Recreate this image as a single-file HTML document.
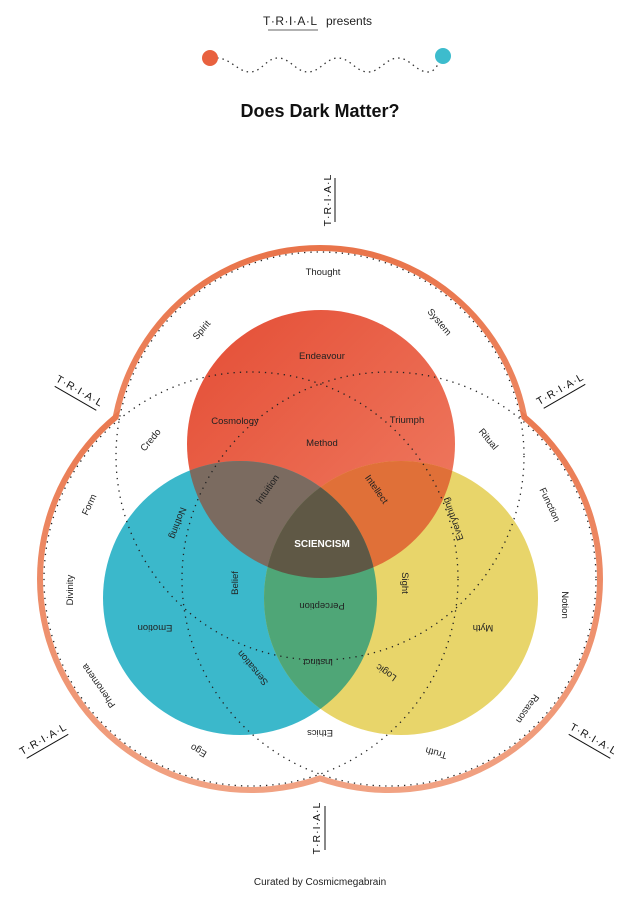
<!DOCTYPE html>
<html><head><meta charset="utf-8"><style>
html,body{margin:0;padding:0;background:#fff;}
svg{display:block;}
text{font-family:"Liberation Sans",sans-serif;}
</style></head><body>
<svg width="640" height="902" viewBox="0 0 640 902" xmlns="http://www.w3.org/2000/svg">
<defs>
<linearGradient id="band" x1="0" y1="0" x2="0" y2="1">
<stop offset="0" stop-color="#e9744a"/><stop offset="1" stop-color="#f1a283"/></linearGradient>
<linearGradient id="redg" x1="0" y1="0" x2="1" y2="1">
<stop offset="0" stop-color="#e44d35"/><stop offset="1" stop-color="#f07e64"/></linearGradient>
<clipPath id="cR"><circle cx="321" cy="444" r="134"/></clipPath>
<clipPath id="cB"><circle cx="240" cy="598" r="137"/></clipPath>
<clipPath id="cY"><circle cx="401" cy="598" r="137"/></clipPath>
</defs>
<!-- header -->
<text x="263" y="25" font-size="12" fill="#222" letter-spacing="0.5">T·R·I·A·L</text>
<line x1="268" y1="30" x2="318" y2="30" stroke="#333" stroke-width="0.8"/>
<text x="326" y="25" font-size="12" fill="#222">presents</text>
<path d="M217 58 C230 58 238 72 250 72 C262 72 266 58 278 58 C290 58 296 72 308 72 C320 72 326 58 338 58 C350 58 356 72 368 72 C380 72 386 58 398 58 C410 58 416 72 428 72 C436 72 438 62 443 58" fill="none" stroke="#333" stroke-width="1.3" stroke-dasharray="1.5 4"/>
<circle cx="210" cy="58" r="8" fill="#e8613f"/>
<circle cx="443" cy="56" r="8" fill="#3dbccd"/>
<text x="320" y="117" font-size="18" font-weight="bold" text-anchor="middle" fill="#111">Does Dark Matter?</text>

<!-- outer band -->
<g fill="url(#band)">
<circle cx="320" cy="456" r="211"/><circle cx="251" cy="579" r="214"/><circle cx="389" cy="579" r="214"/>
</g>
<g fill="#fff">
<circle cx="320" cy="456" r="205"/><circle cx="251" cy="579" r="208"/><circle cx="389" cy="579" r="208"/>
</g>

<!-- colored circles -->
<circle cx="321" cy="444" r="134" fill="url(#redg)"/>
<circle cx="240" cy="598" r="137" fill="#3bb8cb"/>
<circle cx="401" cy="598" r="137" fill="#e8d56a"/>
<g clip-path="url(#cR)"><circle cx="240" cy="598" r="137" fill="#7b6b60"/><circle cx="401" cy="598" r="137" fill="#e07038"/></g>
<g clip-path="url(#cB)"><circle cx="401" cy="598" r="137" fill="#4fa677"/></g>
<g clip-path="url(#cB)"><g clip-path="url(#cY)"><circle cx="321" cy="444" r="134" fill="#5f5845"/></g></g>

<!-- dotted circles -->
<g fill="none" stroke="#222" stroke-width="1.3" stroke-dasharray="1.3 5">
<circle cx="320" cy="456" r="204"/><circle cx="251" cy="579" r="207"/><circle cx="389" cy="579" r="207"/>
</g>

<!-- labels -->
<g font-size="9.5" fill="#222" text-anchor="middle">
<text x="323" y="275">Thought</text>
<text transform="translate(204,332) rotate(-50)">Spirit</text>
<text transform="translate(437,324) rotate(50)">System</text>
<text x="322" y="359">Endeavour</text>
<text x="235" y="424">Cosmology</text>
<text x="407" y="423">Triumph</text>
<text x="322" y="446">Method</text>
<text transform="translate(153,442) rotate(-50)">Credo</text>
<text transform="translate(486,441) rotate(50)">Ritual</text>
<text transform="translate(270,491) rotate(-55)">Intuition</text>
<text transform="translate(374,491) rotate(55)">Intellect</text>
<text transform="translate(92,506) rotate(-65)">Form</text>
<text transform="translate(547,506) rotate(65)">Function</text>
<text transform="translate(175,522) rotate(110)">Nothing</text>
<text transform="translate(456,518) rotate(-110)">Everything</text>
<text transform="translate(73,590) rotate(-90)">Divinity</text>
<text transform="translate(562,605) rotate(90)">Notion</text>
<text transform="translate(238,583) rotate(-90)">Belief</text>
<text transform="translate(402,583) rotate(90)">Sight</text>
<text transform="translate(322,603) rotate(180)">Perception</text>
<text transform="translate(155,625) rotate(180)">Emotion</text>
<text transform="translate(483,625) rotate(180)">Myth</text>
<text transform="translate(255,666) rotate(-130)">Sensation</text>
<text transform="translate(318,659) rotate(180)">Instinct</text>
<text transform="translate(388,670) rotate(-145)">Logic</text>
<text transform="translate(101,684) rotate(-125)">Phenomena</text>
<text transform="translate(525,707) rotate(125)">Reason</text>
<text transform="translate(320,730) rotate(180)">Ethics</text>
<text transform="translate(200,748) rotate(-150)">Ego</text>
<text transform="translate(437,750) rotate(-165)">Truth</text>
</g>
<text x="322" y="547" font-size="10" font-weight="bold" fill="#fff" text-anchor="middle">SCIENCISM</text>

<!-- TRIAL marks -->
<g font-size="10.5" fill="#111" text-anchor="middle" letter-spacing="1">
<g transform="translate(327,200) rotate(-90)"><text x="0" y="4">T·R·I·A·L</text><line x1="-22" y1="8" x2="22" y2="8" stroke="#111" stroke-width="1"/></g>
<g transform="translate(78,394) rotate(30)"><text x="0" y="0">T·R·I·A·L</text><line x1="-24" y1="5" x2="24" y2="5" stroke="#111" stroke-width="1"/></g>
<g transform="translate(562,392) rotate(-30)"><text x="0" y="0">T·R·I·A·L</text><line x1="-24" y1="5" x2="24" y2="5" stroke="#111" stroke-width="1"/></g>
<g transform="translate(45,742) rotate(-30)"><text x="0" y="0">T·R·I·A·L</text><line x1="-24" y1="5" x2="24" y2="5" stroke="#111" stroke-width="1"/></g>
<g transform="translate(592,742) rotate(30)"><text x="0" y="0">T·R·I·A·L</text><line x1="-24" y1="5" x2="24" y2="5" stroke="#111" stroke-width="1"/></g>
<g transform="translate(320,828) rotate(-90)"><text x="0" y="0">T·R·I·A·L</text><line x1="-22" y1="5" x2="22" y2="5" stroke="#111" stroke-width="1"/></g>
</g>

<text x="320" y="885" font-size="10" fill="#222" text-anchor="middle">Curated by Cosmicmegabrain</text>
</svg>
</body></html>
